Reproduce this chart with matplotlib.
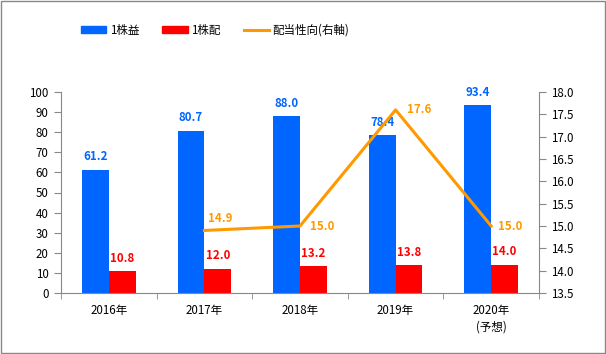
import matplotlib
matplotlib.use("Agg")
import matplotlib.pyplot as plt
from matplotlib.patches import Rectangle, Patch
from matplotlib.lines import Line2D
import numpy as np

plt.rcParams['font.family'] = ['Noto Sans CJK JP', 'DejaVu Sans']

years = ['2016年', '2017年', '2018年', '2019年', '2020年\n(予想)']
eps = [61.2, 80.7, 88.0, 78.4, 93.4]
dps = [10.8, 12.0, 13.2, 13.8, 14.0]
payout_years = [1, 2, 3, 4]
payout = [14.9, 15.0, 17.6, 15.0]

blue = '#0066FF'
red = '#FF0000'
orange = '#FF9900'
gray = '#888888'
fs = 8.3

fig = plt.figure(figsize=(6.06, 3.54), dpi=100)
ax = fig.add_axes([61/606, 1-293/354, (539-61)/606, (293-92)/354])
ax2 = ax.twinx()

x = np.arange(len(years))
w = 0.28
ax.bar(x - w/2, eps, w, color=blue, zorder=2)
ax.bar(x + w/2, dps, w, color=red, zorder=2)

for xi, v in zip(x, eps):
    ax.annotate(f'{v:.1f}', (xi - w/2, v), xytext=(0, 13), textcoords='offset pixels',
                ha='center', va='center', color=blue, fontsize=fs, fontweight='bold')
for xi, v in zip(x, dps):
    ax.annotate(f'{v:.1f}', (xi + w/2, v), xytext=(0, 13), textcoords='offset pixels',
                ha='center', va='center', color=red, fontsize=fs, fontweight='bold')

ax2.plot(payout_years, payout, color=orange, lw=2.2, zorder=3)
offs = [(4, 12), (10, 0), (11, 0), (7, 0)]
for xi, v, o in zip(payout_years, payout, offs):
    ax2.annotate(f'{v:.1f}', (xi, v), xytext=o, textcoords='offset pixels',
                 ha='left', va='center', color=orange, fontsize=fs, fontweight='bold')

ax.set_xlim(-0.5, 4.5)
ax.set_ylim(0, 100)
ax.set_yticks(range(0, 101, 10))
ax2.set_ylim(13.5, 18.0)
ax2.set_yticks(np.arange(13.5, 18.01, 0.5))
ax2.set_yticklabels([f'{t:.1f}' for t in np.arange(13.5, 18.01, 0.5)])

ax.set_xticks(x)
ax.set_xticklabels(years, fontsize=fs, linespacing=1.3)
ax.set_xticks(np.arange(-0.5, 4.6, 1), minor=True)
ax.tick_params(axis='x', which='major', length=0, pad=8)
ax.tick_params(axis='x', which='minor', length=4, color=gray)

for a in (ax, ax2):
    for s in a.spines.values():
        s.set_visible(False)
ax.spines['left'].set_visible(True)
ax.spines['bottom'].set_visible(True)
ax2.spines['right'].set_visible(True)
for s in (ax.spines['left'], ax.spines['bottom'], ax2.spines['right']):
    s.set_color(gray)
ax.tick_params(axis='y', length=5, color=gray, labelsize=fs, pad=4)
ax2.tick_params(axis='y', length=5, color=gray, labelsize=fs, pad=4)

handles = [Patch(color=blue), Patch(color=red), Line2D([], [], color=orange, lw=2.2)]
labels = ['1株益', '1株配', '配当性向(右軸)']
fig.legend(handles, labels, ncol=3, loc='center', bbox_to_anchor=(0.355, 0.915),
           frameon=False, fontsize=fs, handlelength=2.2, handleheight=0.5,
           columnspacing=2.0, handletextpad=0.3)

fig.add_artist(Rectangle((0.001, 0.002), 0.997, 0.995, transform=fig.transFigure,
                         fill=False, edgecolor=gray, lw=1))

fig.savefig('out.png', dpi=100)
